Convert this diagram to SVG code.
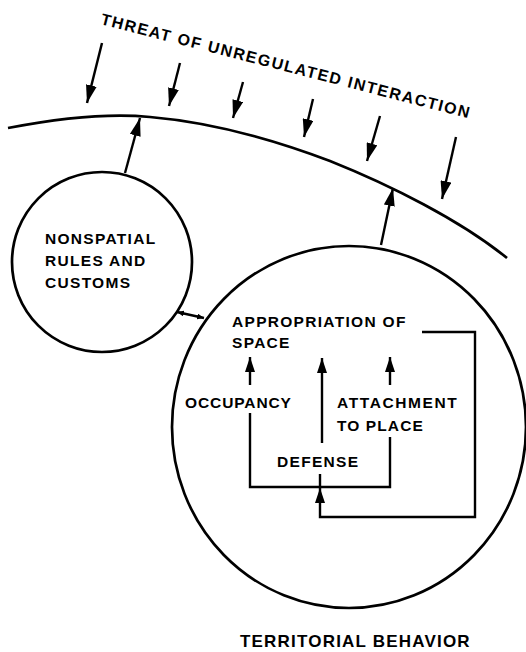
<svg xmlns="http://www.w3.org/2000/svg" width="526" height="652" viewBox="0 0 526 652">
  <style>
    .ln { fill: none; stroke: #000; stroke-width: 2.4; stroke-linecap: butt; stroke-linejoin: miter; }
    .heavy { stroke-width: 2.7; }
    .lbl { font-family: "Liberation Sans", Arial, sans-serif; font-weight: bold; font-size: 15.5px; letter-spacing: 1.3px; fill: #000; }
    .big { font-size: 17px; letter-spacing: 1.2px; }
  </style>
  <defs>
    <marker id="head" viewBox="0 0 18 11" markerWidth="18" markerHeight="11" refX="18" refY="5.5" orient="auto" markerUnits="userSpaceOnUse">
      <path d="M0,0 L18,5.5 L0,11 Z" fill="#000"/>
    </marker>
    <marker id="headS" viewBox="0 0 15 10" markerWidth="15" markerHeight="10" refX="15" refY="5" orient="auto" markerUnits="userSpaceOnUse">
      <path d="M0,0 L15,5 L0,10 Z" fill="#000"/>
    </marker>
    <marker id="tiny" viewBox="0 0 7 6" markerWidth="7" markerHeight="6" refX="7" refY="3" orient="auto-start-reverse" markerUnits="userSpaceOnUse">
      <path d="M0,0 L7,3 L0,6 Z" fill="#000"/>
    </marker>
    <path id="threatPath" d="M100,24 Q 265,66 475,120"/>
  </defs>

  <rect width="526" height="652" fill="#fff"/>

  <!-- boundary curve and its caption -->
  <g id="boundary">
    <path class="ln heavy" d="M8,128 C 60,118 110,113 150,117 C 220,123 280,142 330,161 C 390,185 460,220 507,258"/>
    <text class="lbl" style="font-size:16px;letter-spacing:1.55px"><textPath href="#threatPath">THREAT OF UNREGULATED INTERACTION</textPath></text>
  </g>

  <!-- nonspatial rules node -->
  <g id="nonspatial">
    <circle cx="102" cy="262" r="90" class="ln heavy"/>
    <text class="lbl" x="45" y="244">NONSPATIAL</text>
    <text class="lbl" x="45" y="266">RULES AND</text>
    <text class="lbl" x="45" y="288">CUSTOMS</text>
  </g>

  <!-- territorial behavior node -->
  <g id="territorial">
    <ellipse cx="349" cy="427" rx="177" ry="181" class="ln heavy"/>
    <text class="lbl big" x="240" y="647">TERRITORIAL BEHAVIOR</text>
  </g>

  <g id="appropriation">
    <text class="lbl" x="232" y="327">APPROPRIATION OF</text>
    <text class="lbl" x="232" y="348">SPACE</text>
  </g>
  <g id="occupancy">
    <text class="lbl" x="185" y="408" style="letter-spacing:0.9px">OCCUPANCY</text>
  </g>
  <g id="attachment">
    <text class="lbl" x="337" y="408" style="letter-spacing:1.6px">ATTACHMENT</text>
    <text class="lbl" x="337" y="431" style="letter-spacing:1.1px">TO PLACE</text>
  </g>
  <g id="defense">
    <text class="lbl" x="277" y="467">DEFENSE</text>
  </g>

  <!-- connectors -->
  <g id="connectors">
    <!-- incoming threat -->
    <line class="ln" x1="102" y1="43" x2="87" y2="103" marker-end="url(#head)"/>
    <line class="ln" x1="180" y1="63" x2="169" y2="106" marker-end="url(#head)"/>
    <line class="ln" x1="243" y1="82" x2="233" y2="118" marker-end="url(#head)"/>
    <line class="ln" x1="313" y1="99" x2="304" y2="137" marker-end="url(#head)"/>
    <line class="ln" x1="380" y1="116" x2="367" y2="161" marker-end="url(#head)"/>
    <line class="ln" x1="456" y1="137" x2="442" y2="199" marker-end="url(#head)"/>
    <!-- outgoing regulation -->
    <line class="ln" x1="125" y1="173" x2="140" y2="118" marker-end="url(#head)"/>
    <line class="ln" x1="381" y1="245" x2="393" y2="188" marker-end="url(#head)"/>
    <!-- link between the two circles -->
    <line class="ln" x1="177" y1="312" x2="204" y2="318" marker-start="url(#tiny)" marker-end="url(#tiny)"/>
    <!-- inner arrows to appropriation -->
    <line class="ln" x1="250" y1="385" x2="250" y2="357" marker-end="url(#headS)"/>
    <line class="ln" x1="322" y1="443" x2="322" y2="358" marker-end="url(#headS)"/>
    <line class="ln" x1="390" y1="385" x2="390" y2="357" marker-end="url(#headS)"/>
    <!-- occupancy / attachment join -->
    <path class="ln" d="M250,413 V487 H390 V437"/>
    <line class="ln" x1="320" y1="474" x2="320" y2="487"/>
    <!-- feedback loop -->
    <path class="ln" d="M422,332 H475 V517 H320 V488" marker-end="url(#headS)"/>
  </g>
</svg>
